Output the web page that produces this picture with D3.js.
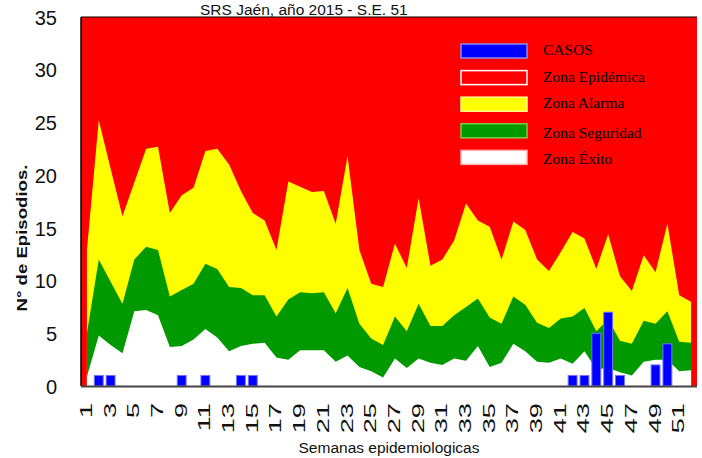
<!DOCTYPE html>
<html>
<head>
<meta charset="utf-8">
<title>SRS Jaén, año 2015 - S.E. 51</title>
<script src="https://cdn.jsdelivr.net/npm/d3@7"></script>
<style>
  body { margin: 0; background: #fff; }
  svg text { font-family: "Liberation Sans", Arial, sans-serif; fill: #111; }
  .leg text { font-family: "Liberation Serif", "Times New Roman", serif; fill: #000; }
</style>
</head>
<body>
<svg id="chart" width="702" height="458"></svg>
<script>
// semanas epidemiologicas
const semanas = [1,2,3,4,5,6,7,8,9,10,11,12,13,14,15,16,17,18,19,20,21,22,23,24,25,26,
  27,28,29,30,31,32,33,34,35,36,37,38,39,40,41,42,43,44,45,46,47,48,49,50,51,52];
const semanasEtiqueta = [1,3,5,7,9,11,13,15,17,19,21,23,25,27,29,31,33,35,37,39,41,43,45,47,49,51];
const casos = [0,1,1,0,0,0,0,0,1,0,1,0,0,1,1,0,0,0,0,0,0,0,0,0,0,0,
  0,0,0,0,0,0,0,0,0,0,0,0,0,0,0,1,1,5,7,1,0,0,2,4,0,0];
// upper limits of each zone
const zonaExito = [0.9,4.8,3.9,3.1,7.1,7.2,6.7,3.7,3.8,4.4,5.4,4.6,3.3,3.8,4.0,4.1,2.7,2.5,3.4,3.4,3.4,2.3,2.9,1.8,1.4,0.8,
  2.6,1.7,2.6,2.2,2.0,2.6,2.4,3.8,1.8,2.2,4.0,3.3,2.3,2.2,2.6,2.1,3.3,1.6,1.7,1.3,1.0,2.3,2.5,2.5,1.4,1.5];
const zonaSeguridad = [5.0,12.0,9.9,7.8,12.0,13.2,12.9,8.5,9.1,9.7,11.6,11.1,9.4,9.3,8.6,8.6,6.6,8.2,8.9,8.8,8.9,6.9,9.3,5.9,4.5,3.9,
  6.6,5.2,7.8,5.7,5.7,6.7,7.5,8.3,6.5,5.9,8.5,7.7,6.0,5.5,6.4,6.6,7.4,5.2,6.3,4.3,4.0,6.2,5.9,7.1,4.2,4.1];
const zonaAlarma = [12.9,25.2,20.6,16.1,19.3,22.5,22.7,16.4,18.1,18.8,22.3,22.5,21.0,18.5,16.4,15.7,12.9,19.4,18.9,18.4,18.5,15.4,21.8,12.9,9.7,9.4,
  13.5,11.2,17.8,11.4,12.0,13.8,17.3,15.7,15.1,12.0,15.6,14.8,12.0,10.9,12.7,14.6,14.0,11.1,14.4,10.4,9.0,12.4,10.8,15.4,8.6,8.0];
const yTicks = [0,5,10,15,20,25,30,35];

const svg = d3.select('#chart');
const mLeft = 81, mRight = 697, mTop = 17, mBottom = 386;

const x = d3.scaleBand().domain(semanas).range([mLeft, mRight])
  .paddingInner(0.25).paddingOuter(0.125);
const y = d3.scaleLinear().domain([0, 35]).range([mBottom, mTop]);
const cx = d => x(d) + x.bandwidth() / 2;

// zona epidemica = fondo rojo
svg.append('rect').attr('x', mLeft).attr('y', mTop)
  .attr('width', mRight - mLeft).attr('height', mBottom - mTop).attr('fill', '#ff0000');

function zona(vals, color) {
  const area = d3.area()
    .x((d, i) => cx(semanas[i]))
    .y0(y(0))
    .y1(d => y(d));
  svg.append('path').datum(vals).attr('d', area).attr('fill', color);
}
zona(zonaAlarma, '#ffff00');
zona(zonaSeguridad, '#009900');
zona(zonaExito, '#ffffff');

// casos
svg.append('g').selectAll('rect')
  .data(semanas.filter((s, i) => casos[i] > 0))
  .join('rect')
  .attr('x', d => x(d))
  .attr('width', x.bandwidth())
  .attr('y', d => y(casos[d - 1]))
  .attr('height', d => y(0) - y(casos[d - 1]))
  .attr('fill', '#0000ff')
  .attr('stroke', '#7373ff')
  .attr('stroke-width', 1);

// marco
svg.append('line').attr('x1', mLeft).attr('x2', mRight).attr('y1', mTop).attr('y2', mTop)
  .attr('stroke', '#000').attr('stroke-width', 1.2);
svg.append('line').attr('x1', mLeft).attr('x2', mLeft).attr('y1', mTop).attr('y2', mBottom)
  .attr('stroke', '#000').attr('stroke-width', 1.5);
svg.append('line').attr('x1', mLeft).attr('x2', mRight).attr('y1', mBottom + 0.5).attr('y2', mBottom + 0.5)
  .attr('stroke', '#444').attr('stroke-width', 2);

// eje y
const yAxis = svg.append('g').attr('transform', `translate(${mLeft},0)`)
  .call(d3.axisLeft(y).tickValues(yTicks).tickSize(0).tickPadding(24));
yAxis.select('.domain').remove();
yAxis.selectAll('text').style('font-size', '20px').attr('dy', '0.36em');

// eje x
const xAxis = svg.append('g');
xAxis.selectAll('text').data(semanasEtiqueta).join('text')
  .attr('transform', d => `translate(${cx(d) + 5},${mBottom + 17}) rotate(-90) scale(1.7,1)`)
  .attr('text-anchor', 'end')
  .style('font-size', '16px')
  .text(d => d);

// titulos
svg.append('text').attr('transform', 'translate(200,14.5)')
  .style('font-size', '15.5px').text('SRS Jaén, año 2015 - S.E. 51');
svg.append('text').attr('transform', `translate(389,453)`)
  .attr('text-anchor', 'middle').style('font-size', '15.5px')
  .text('Semanas epidemiologicas');
svg.append('text').attr('transform', 'translate(27,238) rotate(-90) scale(1.2,1)')
  .attr('text-anchor', 'middle').style('font-size', '15.5px').style('font-weight', 'bold')
  .text('N° de Episodios.');

// leyenda
const leyenda = [
  { label: 'CASOS', fill: '#0000ff', stroke: '#8c8cf0' },
  { label: 'Zona Epidémica', fill: '#ff0000', stroke: '#ffffff' },
  { label: 'Zona Alarma', fill: '#ffff00', stroke: '#ffff8c' },
  { label: 'Zona Seguridad', fill: '#009900', stroke: '#7ccc44' },
  { label: 'Zona Éxito', fill: '#ffffff', stroke: '#ffb0b0' }
];
const leg = svg.append('g').attr('class', 'leg');
const item = leg.selectAll('g').data(leyenda).join('g')
  .attr('transform', (d, i) => `translate(461,${44 + i * 26.6})`);
item.append('rect').attr('width', 66).attr('height', 14)
  .attr('fill', d => d.fill).attr('stroke', d => d.stroke).attr('stroke-width', 1.5);
item.append('text').attr('x', 82).attr('y', (d, i) => i >= 3 ? 14 : 11)
  .style('font-size', '15.5px').text(d => d.label);
</script>
</body>
</html>
